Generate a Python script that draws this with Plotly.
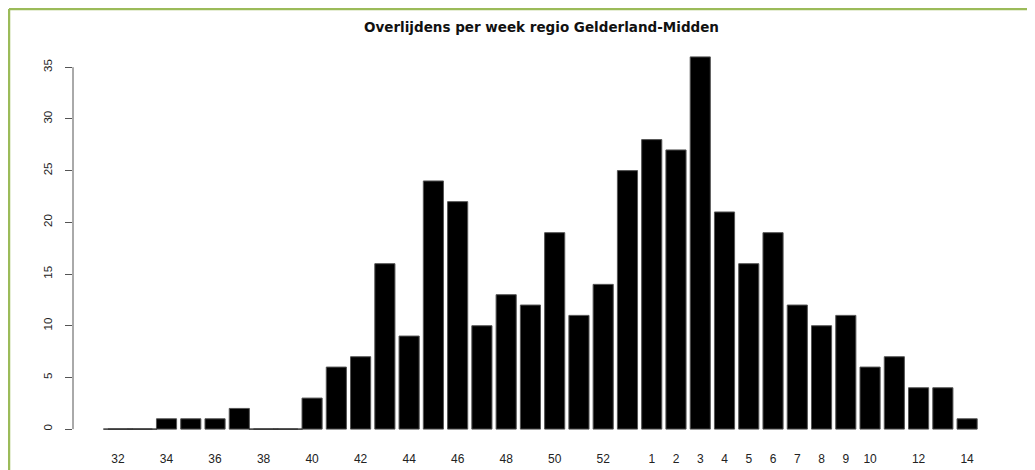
import plotly.graph_objects as go

weeks = [str(w) for w in list(range(32, 54)) + list(range(1, 15))]
deaths = [0, 0, 1, 1, 1, 2, 0, 0, 3, 6, 7, 16, 9, 24, 22, 10, 13, 12, 19, 11, 14, 25,
          28, 27, 36, 21, 16, 19, 12, 10, 11, 6, 7, 4, 4, 1]
tick_labels = ["32", "34", "36", "38", "40", "42", "44", "46", "48", "50", "52",
               "1", "2", "3", "4", "5", "6", "7", "8", "9", "10", "12", "14"]
y_ticks = [0, 5, 10, 15, 20, 25, 30, 35]
title = "Overlijdens per week regio Gelderland-Midden"

# page has an 8px body margin, so the figure starts at (8, 8) in the window
OFF = 8
W, H = 1035 - OFF, 470 - OFF
L, T = 73 - OFF, 42 - OFF
R, B = W - (1012 - OFF), H - (444 - OFF)
pw, ph = W - L - R, H - T - B

def px2paper_x(px):
    return (px - L) / pw

def px2paper_y(py):
    return (H - B - py) / ph

zero_x = [w for w, d in zip(weeks, deaths) if d == 0]
zero_y = [d for d in deaths if d == 0]

fig = go.Figure()
fig.add_trace(go.Bar(
    x=weeks, y=deaths,
    marker=dict(color="black", line=dict(color="#555555", width=1)),
    width=0.83, hoverinfo="x+y",
))
fig.add_trace(go.Scatter(
    x=zero_x, y=zero_y, mode="markers",
    marker=dict(symbol="line-ew", size=21, line=dict(color="#333333", width=1.5)),
    hoverinfo="skip", cliponaxis=False,
))

shapes = [
    # y axis line spanning the tick range only
    dict(type="line", xref="paper", yref="y", x0=0, x1=0,
         y0=min(y_ticks), y1=max(y_ticks), line=dict(color="#555555", width=1)),
    # green frame (top and left)
    dict(type="line", xref="paper", yref="paper", x0=px2paper_x(1), x1=px2paper_x(W + 5),
         y0=px2paper_y(1), y1=px2paper_y(1), line=dict(color="#9bbb59", width=2.5)),
    dict(type="line", xref="paper", yref="paper", x0=px2paper_x(1), x1=px2paper_x(1),
         y0=px2paper_y(1), y1=px2paper_y(H + 5), line=dict(color="#9bbb59", width=2.5)),
]

fig.update_layout(
    width=W, height=H,
    margin=dict(l=L, r=R, t=T, b=B, autoexpand=False),
    paper_bgcolor="white", plot_bgcolor="white",
    showlegend=False,
    title=dict(text="<b>" + title + "</b>", x=(541.5 - OFF) / W,
               xanchor="center", y=1 - (27 - OFF) / H, yanchor="middle",
               font=dict(family="DejaVu Sans", size=13.5, color="#111111")),
    xaxis=dict(
        type="category", categoryorder="array", categoryarray=weeks,
        range=[-1.855, 36.85], automargin=False,
        tickmode="array", tickvals=tick_labels, ticktext=tick_labels,
        ticks="", showline=False, showgrid=False, zeroline=False,
        tickfont=dict(family="Liberation Sans, Arial", size=12, color="#222222"),
        ticklabelstandoff=6,
    ),
    yaxis=dict(
        range=[-1.44, 37.44], automargin=False,
        tickmode="array", tickvals=y_ticks,
        ticks="outside", ticklen=7, tickcolor="#555555", tickwidth=1,
        tickangle=-90,
        showline=False, showgrid=False, zeroline=False,
        tickfont=dict(family="Liberation Sans, Arial", size=11.5, color="#222222"),
        ticklabelstandoff=8,
    ),
    shapes=shapes,
    bargap=0.17,
)

fig.write_html("out.html")
